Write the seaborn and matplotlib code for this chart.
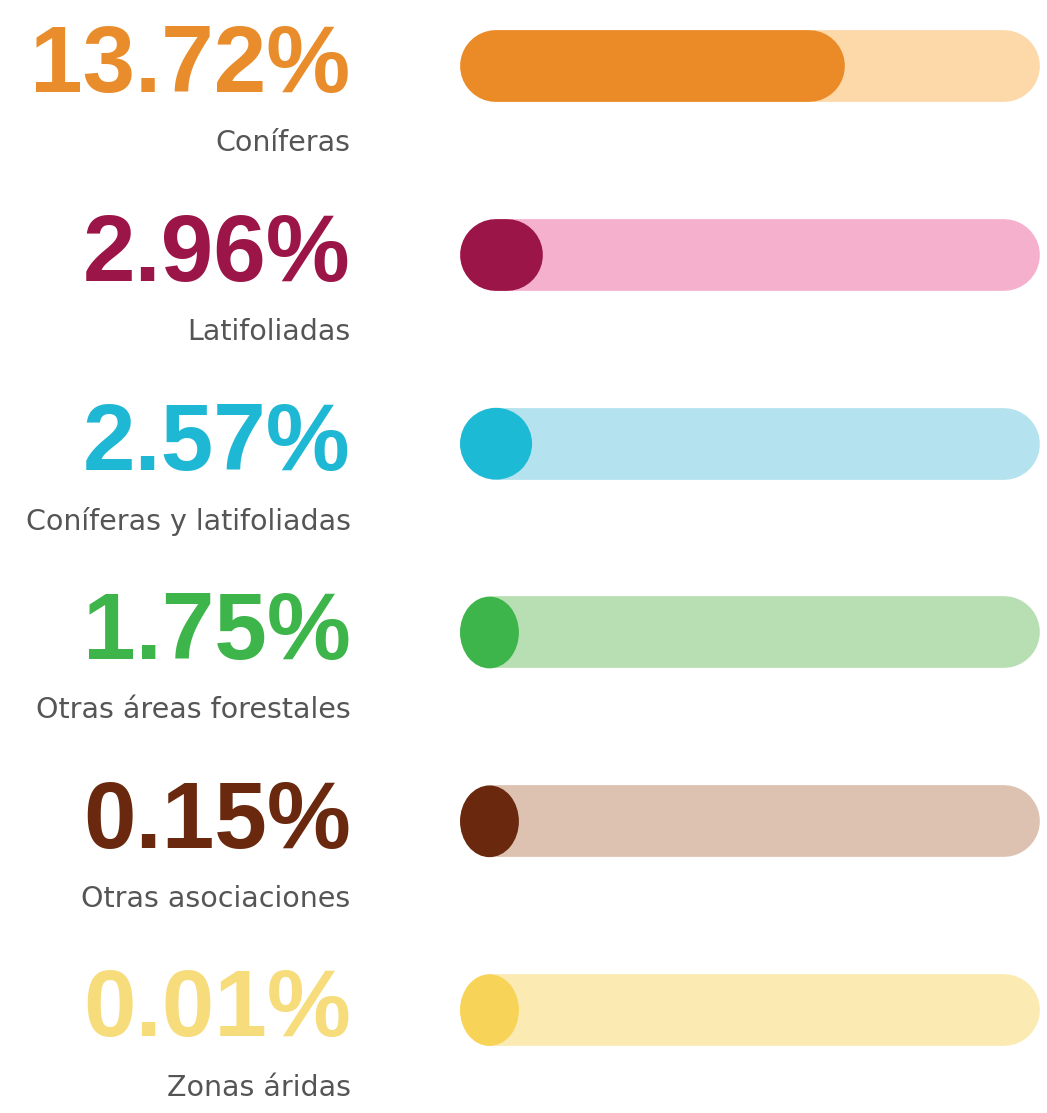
"""
progress-style bar chart of forest cover percentages by vegetation type
"""

import matplotlib.pyplot as plt
import matplotlib.transforms as mtransforms
from matplotlib.patches import Ellipse
import pandas as pd
import seaborn as sns

categories = ["Coníferas", "Latifoliadas", "Coníferas y latifoliadas",
              "Otras áreas forestales", "Otras asociaciones", "Zonas áridas"]
values = [13.72, 2.96, 2.57, 1.75, 0.15, 0.01]
pct_labels = ["13.72%", "2.96%", "2.57%", "1.75%", "0.15%", "0.01%"]

dark_colors = ["#EA8B27", "#9C1548", "#1DBAD6", "#3DB54A", "#6A290E", "#F7D458"]
light_colors = ["#FDD8A9", "#F5B0CE", "#B4E2EE", "#B8DFB3", "#DEC2B1", "#FBEBB2"]
text_colors = ["#E98D2C", "#9C1548", "#1FB8D4", "#3DB54A", "#6A290E", "#F7DC7C"]

SCALE_MAX = 20.7   # full track length in %
MIN_FILL = 2.1     # smallest fill still shows as a dot

sns.set_theme(style="white")
plt.rcParams["font.family"] = ["Liberation Sans", "DejaVu Sans"]

df = pd.DataFrame({"cat": categories, "value": values})
df["track"] = SCALE_MAX
df["fill"] = df["value"].clip(lower=MIN_FILL)

fig = plt.figure(figsize=(10.47, 11.13), dpi=100)
ax = fig.add_axes([0.4394, 0, 0.554, 1])

sns.barplot(data=df, x="track", y="cat", hue="cat", palette=light_colors,
            width=0.38, saturation=1, legend=False, ax=ax)
sns.barplot(data=df, x="fill", y="cat", hue="cat", palette=dark_colors,
            width=0.38, saturation=1, legend=False, ax=ax)

ax.set_xlim(0, SCALE_MAX)
ax.set_ylim(5.545, -0.35)

# swap the square bars for pill shapes with round caps
# (first n patches are the tracks, the rest are the fills)
bbox = ax.get_window_extent()
px_per_x = bbox.width / SCALE_MAX
px_per_y = bbox.height / 5.895
n = len(categories)
for k, bar in enumerate(list(ax.patches)):
    x, y = bar.get_x(), bar.get_y()
    w, h = bar.get_width(), bar.get_height()
    color = bar.get_facecolor()
    z = 2 if k < n else 3
    yc = y + h / 2
    h_px = h * px_per_y
    r = h_px / 2 / px_per_x
    bar.remove()
    if w > 2.1 * r:
        ax.plot([x + r, x + w - r], [yc, yc], color=color, lw=h_px * 72 / 100,
                solid_capstyle="round", zorder=z)
    else:
        ax.add_patch(Ellipse((x + w / 2, yc), w, h, facecolor=color,
                             edgecolor="none", zorder=z))

ax.axis("off")

trans = mtransforms.blended_transform_factory(fig.transFigure, ax.transData)
for i in range(n):
    ax.text(0.335, i + 0.01, pct_labels[i], transform=trans, ha="right", va="center",
            fontsize=68, fontweight="bold", color=text_colors[i])
    ax.text(0.335, i + 0.41, categories[i], transform=trans, ha="right", va="center",
            fontsize=20.5, color="#555555", family=["DejaVu Sans"])

fig.savefig("out.png", dpi=100)
plt.close(fig)
